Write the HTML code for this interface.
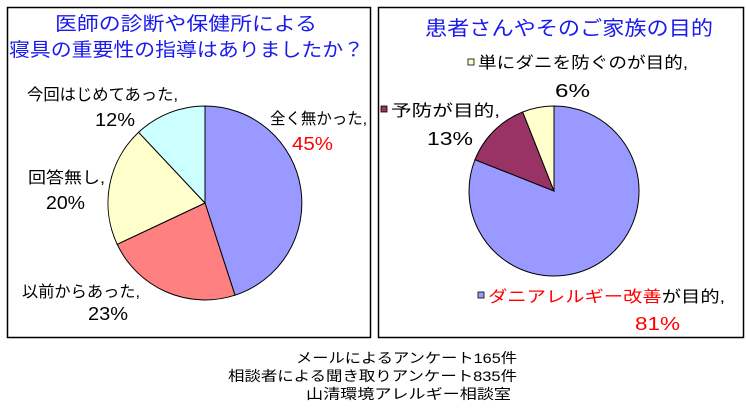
<!DOCTYPE html>
<html><head><meta charset="utf-8"><style>
html,body{margin:0;padding:0;background:#fff;width:746px;height:411px;overflow:hidden}
svg{display:block}
text{font-family:"Liberation Sans","Noto Sans CJK JP",sans-serif}
</style></head><body>
<svg width="746" height="411" viewBox="0 0 746 411" xmlns="http://www.w3.org/2000/svg">
<rect x="7.5" y="7.5" width="363" height="330" fill="#fff" stroke="#000" stroke-width="1.5"/>
<rect x="378.5" y="7.5" width="365" height="330" fill="#fff" stroke="#000" stroke-width="1.5"/>

<g font-size="19" fill="#1a1aee">
<text x="55" y="30" textLength="262" lengthAdjust="spacingAndGlyphs">医師の診断や保健所による</text>
<text x="9" y="56" textLength="355" lengthAdjust="spacingAndGlyphs">寝具の重要性の指導はありましたか？</text>
<text x="425" y="35" textLength="288" lengthAdjust="spacingAndGlyphs" font-size="20">患者さんやそのご家族の目的</text>
</g>

<g stroke="#000" stroke-width="1">
<path d="M205,203 L205,106 A97,97 0 0 1 235,295.2 Z" fill="#9999ff"/>
<path d="M205,203 L235,295.2 A97,97 0 0 1 117.2,244.3 Z" fill="#ff8080"/>
<path d="M205,203 L117.2,244.3 A97,97 0 0 1 138.6,132.3 Z" fill="#ffffcc"/>
<path d="M205,203 L138.6,132.3 A97,97 0 0 1 205,106 Z" fill="#ccffff"/>

<path d="M554,191 L554,106 A85,85 0 1 1 475,159.7 Z" fill="#9999ff"/>
<path d="M554,191 L475,159.7 A85,85 0 0 1 522.7,112 Z" fill="#993366"/>
<path d="M554,191 L522.7,112 A85,85 0 0 1 554,106 Z" fill="#ffffcc"/>
</g>

<g font-size="16" fill="#000">
<text x="27" y="100" textLength="151" lengthAdjust="spacingAndGlyphs">今回はじめてあった,</text>
<text x="95" y="126" textLength="40" lengthAdjust="spacingAndGlyphs" font-size="18">12%</text>
<text x="270" y="124" textLength="97" lengthAdjust="spacingAndGlyphs">全く無かった,</text>
<text x="292" y="150" textLength="41" lengthAdjust="spacingAndGlyphs" font-size="18" fill="#ff0000">45%</text>
<text x="28" y="183" textLength="77" lengthAdjust="spacingAndGlyphs">回答無し,</text>
<text x="46" y="209" textLength="39" lengthAdjust="spacingAndGlyphs" font-size="18">20%</text>
<text x="22" y="297" textLength="118" lengthAdjust="spacingAndGlyphs">以前からあった,</text>
<text x="88" y="320" textLength="40" lengthAdjust="spacingAndGlyphs" font-size="18">23%</text>

<rect x="468" y="59" width="6" height="6" fill="#ffffcc" stroke="#000" stroke-width="0.8"/>
<text x="478" y="68" textLength="210" lengthAdjust="spacingAndGlyphs">単にダニを防ぐのが目的,</text>
<text x="555" y="97" textLength="35" lengthAdjust="spacingAndGlyphs" font-size="18">6%</text>
<rect x="381" y="106" width="6" height="6" fill="#993366" stroke="#000" stroke-width="0.8"/>
<text x="391" y="116" textLength="109" lengthAdjust="spacingAndGlyphs">予防が目的,</text>
<text x="427" y="145" textLength="46" lengthAdjust="spacingAndGlyphs" font-size="18">13%</text>
<rect x="478" y="292" width="6" height="6" fill="#9999ff" stroke="#000" stroke-width="0.8"/>
<text x="488" y="302" textLength="237" lengthAdjust="spacingAndGlyphs"><tspan fill="#ff0000">ダニアレルギー改善</tspan>が目的,</text>
<text x="635" y="330" textLength="45" lengthAdjust="spacingAndGlyphs" font-size="18" fill="#ff0000">81%</text>
</g>

<g font-size="14" fill="#000">
<text x="296" y="363" textLength="221" lengthAdjust="spacingAndGlyphs">メールによるアンケート165件</text>
<text x="228" y="381" textLength="289" lengthAdjust="spacingAndGlyphs">相談者による聞き取りアンケート835件</text>
<text x="306" y="399" textLength="205" lengthAdjust="spacingAndGlyphs">山清環境アレルギー相談室</text>
</g>
</svg>
</body></html>
